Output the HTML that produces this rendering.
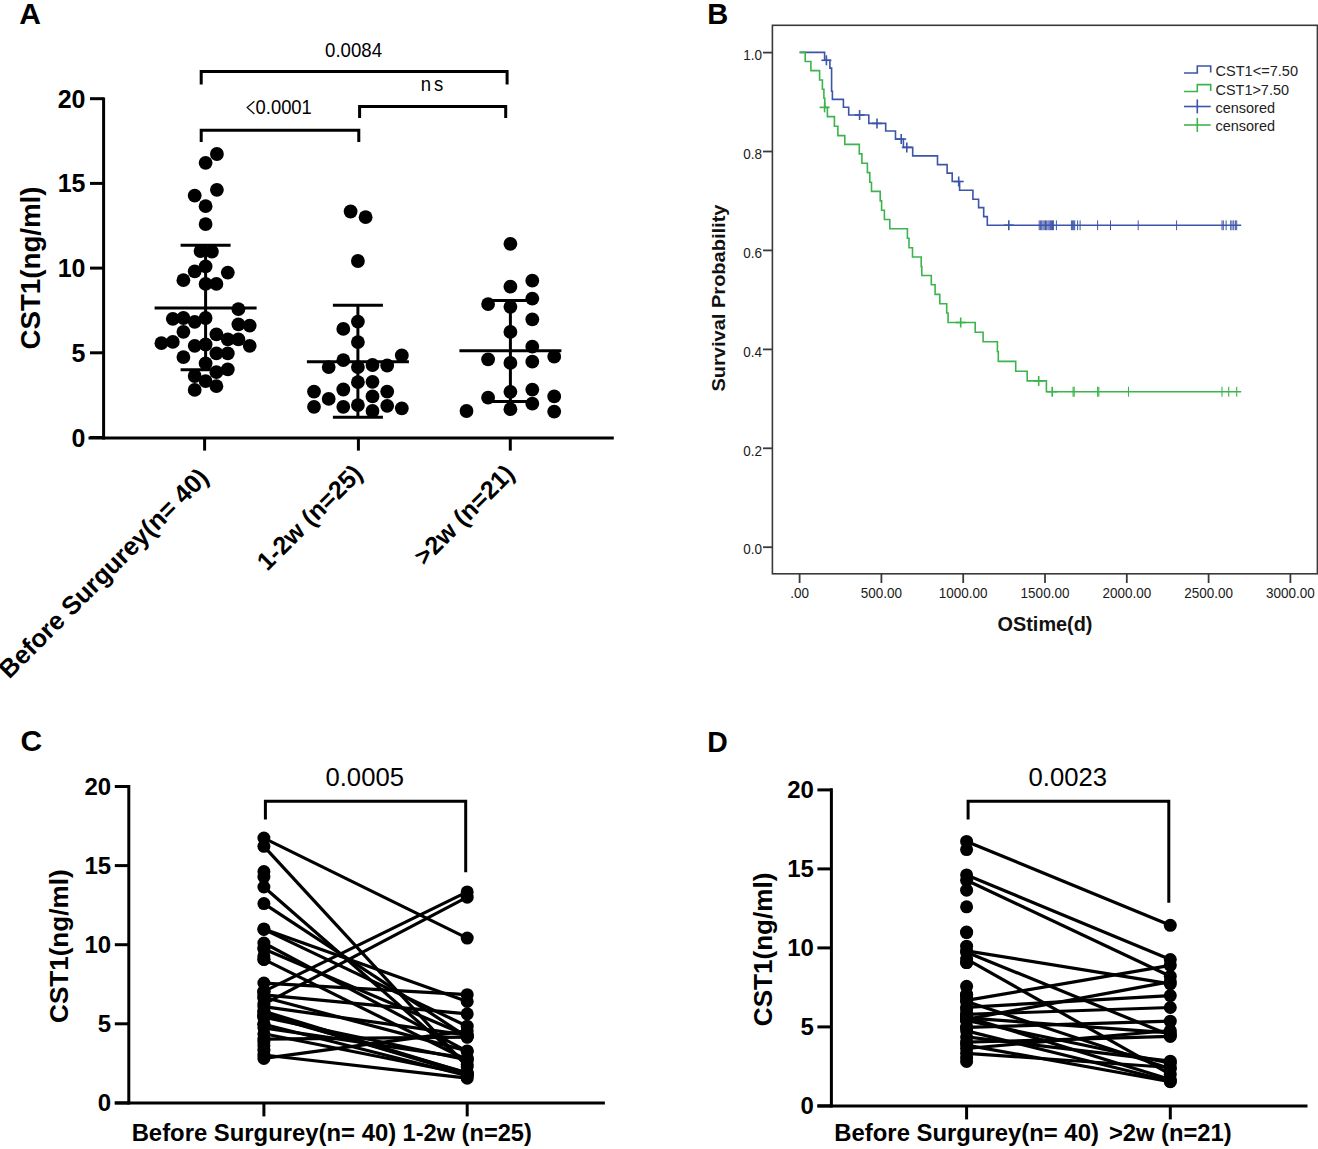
<!DOCTYPE html>
<html><head><meta charset="utf-8"><title>CST1 figure</title>
<style>
html,body{margin:0;padding:0;background:#fff;}
body{width:1318px;height:1149px;overflow:hidden;}
svg{display:block;font-family:"Liberation Sans",sans-serif;}
</style></head>
<body>
<svg width="1318" height="1149" viewBox="0 0 1318 1149">
<rect width="1318" height="1149" fill="#fff"/>
<text x="19.3" y="24.2" font-size="30" font-weight="bold" text-anchor="start" fill="#000">A</text>
<text x="707.2" y="23.8" font-size="30" font-weight="bold" text-anchor="start" fill="#000" textLength="21" lengthAdjust="spacingAndGlyphs">B</text>
<text x="20.5" y="750.6" font-size="30" font-weight="bold" text-anchor="start" fill="#000">C</text>
<text x="707.2" y="751.5" font-size="30" font-weight="bold" text-anchor="start" fill="#000" textLength="20.5" lengthAdjust="spacingAndGlyphs">D</text>
<line x1="103.6" y1="97.5" x2="103.6" y2="439.4" stroke="#000" stroke-width="3" stroke-linecap="butt"/>
<line x1="88.5" y1="437.9" x2="613.8" y2="437.9" stroke="#000" stroke-width="3" stroke-linecap="butt"/>
<line x1="90.0" y1="437.5" x2="103.6" y2="437.5" stroke="#000" stroke-width="3" stroke-linecap="butt"/>
<text x="85.5" y="446.5" font-size="25" font-weight="bold" text-anchor="end" fill="#000">0</text>
<line x1="90.0" y1="352.8" x2="103.6" y2="352.8" stroke="#000" stroke-width="3" stroke-linecap="butt"/>
<text x="85.5" y="361.8" font-size="25" font-weight="bold" text-anchor="end" fill="#000">5</text>
<line x1="90.0" y1="268.1" x2="103.6" y2="268.1" stroke="#000" stroke-width="3" stroke-linecap="butt"/>
<text x="85.5" y="277.1" font-size="25" font-weight="bold" text-anchor="end" fill="#000">10</text>
<line x1="90.0" y1="183.4" x2="103.6" y2="183.4" stroke="#000" stroke-width="3" stroke-linecap="butt"/>
<text x="85.5" y="192.4" font-size="25" font-weight="bold" text-anchor="end" fill="#000">15</text>
<line x1="90.0" y1="98.7" x2="103.6" y2="98.7" stroke="#000" stroke-width="3" stroke-linecap="butt"/>
<text x="85.5" y="107.7" font-size="25" font-weight="bold" text-anchor="end" fill="#000">20</text>
<line x1="204.6" y1="437.9" x2="204.6" y2="450.6" stroke="#000" stroke-width="3" stroke-linecap="butt"/>
<line x1="358.4" y1="437.9" x2="358.4" y2="450.6" stroke="#000" stroke-width="3" stroke-linecap="butt"/>
<line x1="510.3" y1="437.9" x2="510.3" y2="450.6" stroke="#000" stroke-width="3" stroke-linecap="butt"/>
<text x="40.0" y="268.0" font-size="27" font-weight="bold" text-anchor="middle" fill="#000" textLength="163" lengthAdjust="spacingAndGlyphs" transform="rotate(-90 40.0 268.0)">CST1(ng/ml)</text>
<text x="210.0" y="479.0" font-size="25.6" font-weight="bold" text-anchor="end" fill="#000" transform="rotate(-45 210.0 479.0)">Before Surgurey(n= 40)</text>
<text x="364.0" y="475.0" font-size="25" font-weight="bold" text-anchor="end" fill="#000" transform="rotate(-45 364.0 475.0)">1-2w (n=25)</text>
<text x="516.0" y="475.0" font-size="25" font-weight="bold" text-anchor="end" fill="#000" transform="rotate(-45 516.0 475.0)">&gt;2w (n=21)</text>
<polyline points="201.2,84.6 201.2,71.5 507.1,71.5 507.1,84.6" fill="none" stroke="#000" stroke-width="3" stroke-linejoin="miter"/>
<polyline points="359.6,118.0 359.6,106.5 505.7,106.5 505.7,118.0" fill="none" stroke="#000" stroke-width="3" stroke-linejoin="miter"/>
<polyline points="201.2,141.9 201.2,130.2 358.8,130.2 358.8,141.9" fill="none" stroke="#000" stroke-width="3" stroke-linejoin="miter"/>
<text x="0" y="0" transform="translate(353.5 56.8) scale(1 1.09)" font-size="18.5" font-weight="normal" text-anchor="middle" fill="#000" textLength="57" lengthAdjust="spacingAndGlyphs">0.0084</text>
<text x="0" y="0" transform="translate(433.5 90.8) scale(1 1.09)" font-size="18.5" font-weight="normal" text-anchor="middle" fill="#000" letter-spacing="3">ns</text>
<text x="0" y="0" transform="translate(255.6 114.1) scale(1 1.09)" font-size="18.5" font-weight="normal" text-anchor="start" fill="#000" textLength="56.2" lengthAdjust="spacingAndGlyphs">0.0001</text>
<polyline points="254.4,101.2 247.2,107.6 254.4,114.0" fill="none" stroke="#111" stroke-width="1.3" stroke-linejoin="miter"/>
<line x1="205.6" y1="245.3" x2="205.6" y2="369.8" stroke="#000" stroke-width="3" stroke-linecap="butt"/>
<line x1="154.6" y1="307.9" x2="256.6" y2="307.9" stroke="#000" stroke-width="3" stroke-linecap="butt"/>
<line x1="180.6" y1="245.3" x2="230.6" y2="245.3" stroke="#000" stroke-width="3" stroke-linecap="butt"/>
<line x1="180.6" y1="369.8" x2="230.6" y2="369.8" stroke="#000" stroke-width="3" stroke-linecap="butt"/>
<line x1="357.9" y1="305.3" x2="357.9" y2="417.3" stroke="#000" stroke-width="3" stroke-linecap="butt"/>
<line x1="306.9" y1="361.7" x2="408.9" y2="361.7" stroke="#000" stroke-width="3" stroke-linecap="butt"/>
<line x1="332.9" y1="305.3" x2="382.9" y2="305.3" stroke="#000" stroke-width="3" stroke-linecap="butt"/>
<line x1="332.9" y1="417.3" x2="382.9" y2="417.3" stroke="#000" stroke-width="3" stroke-linecap="butt"/>
<line x1="510.4" y1="300.4" x2="510.4" y2="401.5" stroke="#000" stroke-width="3" stroke-linecap="butt"/>
<line x1="459.4" y1="350.7" x2="561.4" y2="350.7" stroke="#000" stroke-width="3" stroke-linecap="butt"/>
<line x1="485.4" y1="300.4" x2="535.4" y2="300.4" stroke="#000" stroke-width="3" stroke-linecap="butt"/>
<line x1="485.4" y1="401.5" x2="535.4" y2="401.5" stroke="#000" stroke-width="3" stroke-linecap="butt"/>
<circle cx="216.9" cy="154.0" r="6.9" fill="#000"/>
<circle cx="205.6" cy="162.8" r="6.9" fill="#000"/>
<circle cx="216.9" cy="189.8" r="6.9" fill="#000"/>
<circle cx="194.7" cy="195.6" r="6.9" fill="#000"/>
<circle cx="205.6" cy="206.2" r="6.9" fill="#000"/>
<circle cx="205.6" cy="224.1" r="6.9" fill="#000"/>
<circle cx="200.5" cy="251.1" r="6.9" fill="#000"/>
<circle cx="211.9" cy="251.6" r="6.9" fill="#000"/>
<circle cx="205.6" cy="266.3" r="6.9" fill="#000"/>
<circle cx="194.7" cy="271.3" r="6.9" fill="#000"/>
<circle cx="227.8" cy="272.6" r="6.9" fill="#000"/>
<circle cx="183.4" cy="280.2" r="6.9" fill="#000"/>
<circle cx="205.6" cy="283.9" r="6.9" fill="#000"/>
<circle cx="216.4" cy="283.9" r="6.9" fill="#000"/>
<circle cx="238.4" cy="309.2" r="6.9" fill="#000"/>
<circle cx="172.8" cy="318.8" r="6.9" fill="#000"/>
<circle cx="183.4" cy="318.0" r="6.9" fill="#000"/>
<circle cx="194.7" cy="321.8" r="6.9" fill="#000"/>
<circle cx="205.6" cy="318.0" r="6.9" fill="#000"/>
<circle cx="238.4" cy="324.3" r="6.9" fill="#000"/>
<circle cx="249.7" cy="325.6" r="6.9" fill="#000"/>
<circle cx="183.4" cy="331.8" r="6.9" fill="#000"/>
<circle cx="216.4" cy="334.4" r="6.9" fill="#000"/>
<circle cx="161.4" cy="343.2" r="6.9" fill="#000"/>
<circle cx="172.8" cy="341.9" r="6.9" fill="#000"/>
<circle cx="227.8" cy="339.4" r="6.9" fill="#000"/>
<circle cx="238.4" cy="339.4" r="6.9" fill="#000"/>
<circle cx="194.7" cy="345.8" r="6.9" fill="#000"/>
<circle cx="205.6" cy="344.5" r="6.9" fill="#000"/>
<circle cx="249.7" cy="345.8" r="6.9" fill="#000"/>
<circle cx="183.4" cy="357.1" r="6.9" fill="#000"/>
<circle cx="216.4" cy="353.3" r="6.9" fill="#000"/>
<circle cx="227.8" cy="353.3" r="6.9" fill="#000"/>
<circle cx="205.6" cy="363.4" r="6.9" fill="#000"/>
<circle cx="194.7" cy="376.0" r="6.9" fill="#000"/>
<circle cx="216.4" cy="372.2" r="6.9" fill="#000"/>
<circle cx="227.8" cy="369.3" r="6.9" fill="#000"/>
<circle cx="205.6" cy="381.1" r="6.9" fill="#000"/>
<circle cx="194.7" cy="389.9" r="6.9" fill="#000"/>
<circle cx="216.4" cy="386.2" r="6.9" fill="#000"/>
<circle cx="350.6" cy="211.5" r="6.9" fill="#000"/>
<circle cx="365.6" cy="217.2" r="6.9" fill="#000"/>
<circle cx="357.9" cy="261.0" r="6.9" fill="#000"/>
<circle cx="357.9" cy="321.6" r="6.9" fill="#000"/>
<circle cx="343.3" cy="328.9" r="6.9" fill="#000"/>
<circle cx="357.9" cy="342.1" r="6.9" fill="#000"/>
<circle cx="343.3" cy="360.2" r="6.9" fill="#000"/>
<circle cx="401.8" cy="355.4" r="6.9" fill="#000"/>
<circle cx="328.7" cy="367.1" r="6.9" fill="#000"/>
<circle cx="357.9" cy="367.1" r="6.9" fill="#000"/>
<circle cx="372.5" cy="365.0" r="6.9" fill="#000"/>
<circle cx="387.2" cy="365.5" r="6.9" fill="#000"/>
<circle cx="357.9" cy="382.2" r="6.9" fill="#000"/>
<circle cx="372.5" cy="381.8" r="6.9" fill="#000"/>
<circle cx="314.0" cy="391.6" r="6.9" fill="#000"/>
<circle cx="343.3" cy="389.5" r="6.9" fill="#000"/>
<circle cx="387.2" cy="391.6" r="6.9" fill="#000"/>
<circle cx="328.7" cy="398.9" r="6.9" fill="#000"/>
<circle cx="372.5" cy="396.4" r="6.9" fill="#000"/>
<circle cx="314.0" cy="406.8" r="6.9" fill="#000"/>
<circle cx="343.3" cy="406.8" r="6.9" fill="#000"/>
<circle cx="357.9" cy="405.1" r="6.9" fill="#000"/>
<circle cx="387.2" cy="405.8" r="6.9" fill="#000"/>
<circle cx="372.5" cy="411.0" r="6.9" fill="#000"/>
<circle cx="401.8" cy="408.3" r="6.9" fill="#000"/>
<circle cx="510.4" cy="243.8" r="6.9" fill="#000"/>
<circle cx="532.3" cy="280.7" r="6.9" fill="#000"/>
<circle cx="510.4" cy="286.7" r="6.9" fill="#000"/>
<circle cx="532.3" cy="298.6" r="6.9" fill="#000"/>
<circle cx="488.1" cy="304.1" r="6.9" fill="#000"/>
<circle cx="510.4" cy="306.8" r="6.9" fill="#000"/>
<circle cx="532.3" cy="319.3" r="6.9" fill="#000"/>
<circle cx="510.4" cy="331.9" r="6.9" fill="#000"/>
<circle cx="532.3" cy="346.7" r="6.9" fill="#000"/>
<circle cx="488.1" cy="359.3" r="6.9" fill="#000"/>
<circle cx="510.4" cy="362.9" r="6.9" fill="#000"/>
<circle cx="532.3" cy="361.7" r="6.9" fill="#000"/>
<circle cx="554.2" cy="356.7" r="6.9" fill="#000"/>
<circle cx="510.4" cy="391.8" r="6.9" fill="#000"/>
<circle cx="532.3" cy="389.6" r="6.9" fill="#000"/>
<circle cx="488.1" cy="397.7" r="6.9" fill="#000"/>
<circle cx="554.2" cy="396.4" r="6.9" fill="#000"/>
<circle cx="532.3" cy="403.7" r="6.9" fill="#000"/>
<circle cx="466.5" cy="411.0" r="6.9" fill="#000"/>
<circle cx="510.4" cy="409.2" r="6.9" fill="#000"/>
<circle cx="554.2" cy="411.6" r="6.9" fill="#000"/>
<rect x="772.4" y="25.3" width="545.0000000000001" height="548.5" fill="none" stroke="#3a3a3a" stroke-width="1.6"/>
<line x1="763.0" y1="547.2" x2="772.4" y2="547.2" stroke="#3a3a3a" stroke-width="1.8" stroke-linecap="butt"/>
<text x="0" y="0" transform="translate(762.0 554.4) scale(1 1.1)" font-size="13.5" font-weight="normal" text-anchor="end" fill="#1a1a1a">0.0</text>
<line x1="763.0" y1="448.3" x2="772.4" y2="448.3" stroke="#3a3a3a" stroke-width="1.8" stroke-linecap="butt"/>
<text x="0" y="0" transform="translate(762.0 455.5) scale(1 1.1)" font-size="13.5" font-weight="normal" text-anchor="end" fill="#1a1a1a">0.2</text>
<line x1="763.0" y1="349.4" x2="772.4" y2="349.4" stroke="#3a3a3a" stroke-width="1.8" stroke-linecap="butt"/>
<text x="0" y="0" transform="translate(762.0 356.6) scale(1 1.1)" font-size="13.5" font-weight="normal" text-anchor="end" fill="#1a1a1a">0.4</text>
<line x1="763.0" y1="250.4" x2="772.4" y2="250.4" stroke="#3a3a3a" stroke-width="1.8" stroke-linecap="butt"/>
<text x="0" y="0" transform="translate(762.0 257.6) scale(1 1.1)" font-size="13.5" font-weight="normal" text-anchor="end" fill="#1a1a1a">0.6</text>
<line x1="763.0" y1="151.5" x2="772.4" y2="151.5" stroke="#3a3a3a" stroke-width="1.8" stroke-linecap="butt"/>
<text x="0" y="0" transform="translate(762.0 158.7) scale(1 1.1)" font-size="13.5" font-weight="normal" text-anchor="end" fill="#1a1a1a">0.8</text>
<line x1="763.0" y1="52.6" x2="772.4" y2="52.6" stroke="#3a3a3a" stroke-width="1.8" stroke-linecap="butt"/>
<text x="0" y="0" transform="translate(762.0 59.8) scale(1 1.1)" font-size="13.5" font-weight="normal" text-anchor="end" fill="#1a1a1a">1.0</text>
<line x1="799.6" y1="573.8" x2="799.6" y2="583.0" stroke="#3a3a3a" stroke-width="1.8" stroke-linecap="butt"/>
<text x="0" y="0" transform="translate(799.6 598.2) scale(1 1.1)" font-size="13.5" font-weight="normal" text-anchor="middle" fill="#1a1a1a">.00</text>
<line x1="881.4" y1="573.8" x2="881.4" y2="583.0" stroke="#3a3a3a" stroke-width="1.8" stroke-linecap="butt"/>
<text x="0" y="0" transform="translate(881.4 598.2) scale(1 1.1)" font-size="13.5" font-weight="normal" text-anchor="middle" fill="#1a1a1a">500.00</text>
<line x1="963.2" y1="573.8" x2="963.2" y2="583.0" stroke="#3a3a3a" stroke-width="1.8" stroke-linecap="butt"/>
<text x="0" y="0" transform="translate(963.2 598.2) scale(1 1.1)" font-size="13.5" font-weight="normal" text-anchor="middle" fill="#1a1a1a">1000.00</text>
<line x1="1045.0" y1="573.8" x2="1045.0" y2="583.0" stroke="#3a3a3a" stroke-width="1.8" stroke-linecap="butt"/>
<text x="0" y="0" transform="translate(1045.0 598.2) scale(1 1.1)" font-size="13.5" font-weight="normal" text-anchor="middle" fill="#1a1a1a">1500.00</text>
<line x1="1126.8" y1="573.8" x2="1126.8" y2="583.0" stroke="#3a3a3a" stroke-width="1.8" stroke-linecap="butt"/>
<text x="0" y="0" transform="translate(1126.8 598.2) scale(1 1.1)" font-size="13.5" font-weight="normal" text-anchor="middle" fill="#1a1a1a">2000.00</text>
<line x1="1208.6" y1="573.8" x2="1208.6" y2="583.0" stroke="#3a3a3a" stroke-width="1.8" stroke-linecap="butt"/>
<text x="0" y="0" transform="translate(1208.6 598.2) scale(1 1.1)" font-size="13.5" font-weight="normal" text-anchor="middle" fill="#1a1a1a">2500.00</text>
<line x1="1290.4" y1="573.8" x2="1290.4" y2="583.0" stroke="#3a3a3a" stroke-width="1.8" stroke-linecap="butt"/>
<text x="0" y="0" transform="translate(1290.4 598.2) scale(1 1.1)" font-size="13.5" font-weight="normal" text-anchor="middle" fill="#1a1a1a">3000.00</text>
<text x="0" y="0" transform="translate(1045.0 631.0) scale(1 1.1)" font-size="19" font-weight="bold" text-anchor="middle" fill="#111" textLength="95" lengthAdjust="spacingAndGlyphs">OStime(d)</text>
<text x="724.7" y="298.0" font-size="18" font-weight="bold" text-anchor="middle" fill="#111" textLength="187" lengthAdjust="spacingAndGlyphs" transform="rotate(-90 724.7 298.0)">Survival Probability</text>
<polyline points="799.6,52.4 824.6,52.4 824.6,60.3 829.9,60.3 829.9,68.1 831.6,68.1 831.6,91.3 832.4,91.3 832.4,99.4 843.4,99.4 843.4,107.2 848.7,107.2 848.7,115.0 868.8,115.0 868.8,123.4 885.7,123.4 885.7,131.0 895.5,131.0 895.5,139.1 903.4,139.1 903.4,147.4 912.7,147.4 912.7,155.9 937.5,155.9 937.5,164.6 947.1,164.6 947.1,173.1 952.2,173.1 952.2,181.5 959.6,181.5 959.6,190.2 972.9,190.2 972.9,199.2 978.6,199.2 978.6,207.6 983.7,207.6 983.7,216.6 987.3,216.6 987.3,225.2 1241.2,225.2" fill="none" stroke="#3d55a8" stroke-width="1.6" stroke-linejoin="miter"/>
<polyline points="799.6,52.4 805.2,52.4 805.2,61.5 810.9,61.5 810.9,70.6 819.6,70.6 819.6,80.0 822.4,80.0 822.4,89.3 823.9,89.3 823.9,98.3 824.8,98.3 824.8,107.4 827.4,107.4 827.4,116.6 834.4,116.6 834.4,126.2 837.9,126.2 837.9,135.6 844.8,135.6 844.8,144.4 859.3,144.4 859.3,153.9 861.9,153.9 861.9,163.3 867.4,163.3 867.4,172.6 869.8,172.6 869.8,182.2 871.5,182.2 871.5,191.4 880.2,191.4 880.2,200.9 881.6,200.9 881.6,210.2 884.4,210.2 884.4,219.5 889.8,219.5 889.8,228.8 907.4,228.8 907.4,238.3 909.0,238.3 909.0,247.7 912.5,247.7 912.5,257.0 921.2,257.0 921.2,266.6 921.8,266.6 921.8,275.5 931.3,275.5 931.3,284.8 935.1,284.8 935.1,294.4 939.8,294.4 939.8,303.7 946.7,303.7 946.7,313.0 948.1,313.0 948.1,322.5 975.2,322.5 975.2,332.2 983.1,332.2 983.1,341.8 997.4,341.8 997.4,351.5 998.3,351.5 998.3,361.4 1015.7,361.4 1015.7,371.2 1027.2,371.2 1027.2,380.9 1046.4,380.9 1046.4,391.7 1241.2,391.7" fill="none" stroke="#3cb44b" stroke-width="1.6" stroke-linejoin="miter"/>
<line x1="826.4" y1="55.3" x2="826.4" y2="65.3" stroke="#3d55a8" stroke-width="1.6" stroke-linecap="butt"/>
<line x1="821.4" y1="60.3" x2="831.4" y2="60.3" stroke="#3d55a8" stroke-width="1.6" stroke-linecap="butt"/>
<line x1="859.6" y1="110.0" x2="859.6" y2="120.0" stroke="#3d55a8" stroke-width="1.6" stroke-linecap="butt"/>
<line x1="854.6" y1="115.0" x2="864.6" y2="115.0" stroke="#3d55a8" stroke-width="1.6" stroke-linecap="butt"/>
<line x1="877.0" y1="118.4" x2="877.0" y2="128.4" stroke="#3d55a8" stroke-width="1.6" stroke-linecap="butt"/>
<line x1="872.0" y1="123.4" x2="882.0" y2="123.4" stroke="#3d55a8" stroke-width="1.6" stroke-linecap="butt"/>
<line x1="901.2" y1="134.1" x2="901.2" y2="144.1" stroke="#3d55a8" stroke-width="1.6" stroke-linecap="butt"/>
<line x1="896.2" y1="139.1" x2="906.2" y2="139.1" stroke="#3d55a8" stroke-width="1.6" stroke-linecap="butt"/>
<line x1="906.8" y1="142.4" x2="906.8" y2="152.4" stroke="#3d55a8" stroke-width="1.6" stroke-linecap="butt"/>
<line x1="901.8" y1="147.4" x2="911.8" y2="147.4" stroke="#3d55a8" stroke-width="1.6" stroke-linecap="butt"/>
<line x1="958.7" y1="176.5" x2="958.7" y2="186.5" stroke="#3d55a8" stroke-width="1.6" stroke-linecap="butt"/>
<line x1="953.7" y1="181.5" x2="963.7" y2="181.5" stroke="#3d55a8" stroke-width="1.6" stroke-linecap="butt"/>
<line x1="1008.8" y1="220.2" x2="1008.8" y2="230.2" stroke="#3d55a8" stroke-width="1.6" stroke-linecap="butt"/>
<line x1="1003.8" y1="225.2" x2="1013.8" y2="225.2" stroke="#3d55a8" stroke-width="1.6" stroke-linecap="butt"/>
<line x1="1039.2" y1="220.4" x2="1039.2" y2="230.2" stroke="#3d55a8" stroke-width="1.0" stroke-linecap="butt"/>
<line x1="1040.4" y1="220.4" x2="1040.4" y2="230.2" stroke="#3d55a8" stroke-width="1.0" stroke-linecap="butt"/>
<line x1="1041.7" y1="220.4" x2="1041.7" y2="230.2" stroke="#3d55a8" stroke-width="1.0" stroke-linecap="butt"/>
<line x1="1043.0" y1="220.4" x2="1043.0" y2="230.2" stroke="#3d55a8" stroke-width="1.0" stroke-linecap="butt"/>
<line x1="1044.2" y1="220.4" x2="1044.2" y2="230.2" stroke="#3d55a8" stroke-width="1.0" stroke-linecap="butt"/>
<line x1="1045.5" y1="220.4" x2="1045.5" y2="230.2" stroke="#3d55a8" stroke-width="1.0" stroke-linecap="butt"/>
<line x1="1046.7" y1="220.4" x2="1046.7" y2="230.2" stroke="#3d55a8" stroke-width="1.0" stroke-linecap="butt"/>
<line x1="1048.0" y1="220.4" x2="1048.0" y2="230.2" stroke="#3d55a8" stroke-width="1.0" stroke-linecap="butt"/>
<line x1="1049.2" y1="220.4" x2="1049.2" y2="230.2" stroke="#3d55a8" stroke-width="1.0" stroke-linecap="butt"/>
<line x1="1050.4" y1="220.4" x2="1050.4" y2="230.2" stroke="#3d55a8" stroke-width="1.0" stroke-linecap="butt"/>
<line x1="1051.4" y1="220.4" x2="1051.4" y2="230.2" stroke="#3d55a8" stroke-width="1.0" stroke-linecap="butt"/>
<line x1="1052.5" y1="220.4" x2="1052.5" y2="230.2" stroke="#3d55a8" stroke-width="1.0" stroke-linecap="butt"/>
<line x1="1053.4" y1="220.4" x2="1053.4" y2="230.2" stroke="#3d55a8" stroke-width="1.0" stroke-linecap="butt"/>
<line x1="1056.4" y1="220.4" x2="1056.4" y2="230.2" stroke="#3d55a8" stroke-width="1.0" stroke-linecap="butt"/>
<line x1="1071.4" y1="220.4" x2="1071.4" y2="230.2" stroke="#3d55a8" stroke-width="1.0" stroke-linecap="butt"/>
<line x1="1072.6" y1="220.4" x2="1072.6" y2="230.2" stroke="#3d55a8" stroke-width="1.0" stroke-linecap="butt"/>
<line x1="1073.7" y1="220.4" x2="1073.7" y2="230.2" stroke="#3d55a8" stroke-width="1.0" stroke-linecap="butt"/>
<line x1="1074.7" y1="220.4" x2="1074.7" y2="230.2" stroke="#3d55a8" stroke-width="1.0" stroke-linecap="butt"/>
<line x1="1077.6" y1="220.4" x2="1077.6" y2="230.2" stroke="#3d55a8" stroke-width="1.0" stroke-linecap="butt"/>
<line x1="1080.1" y1="220.4" x2="1080.1" y2="230.2" stroke="#3d55a8" stroke-width="1.0" stroke-linecap="butt"/>
<line x1="1097.6" y1="220.4" x2="1097.6" y2="230.2" stroke="#3d55a8" stroke-width="1.0" stroke-linecap="butt"/>
<line x1="1110.5" y1="220.4" x2="1110.5" y2="230.2" stroke="#3d55a8" stroke-width="1.0" stroke-linecap="butt"/>
<line x1="1138.2" y1="220.4" x2="1138.2" y2="230.2" stroke="#3d55a8" stroke-width="1.0" stroke-linecap="butt"/>
<line x1="1176.6" y1="220.4" x2="1176.6" y2="230.2" stroke="#3d55a8" stroke-width="1.0" stroke-linecap="butt"/>
<line x1="1222.0" y1="220.4" x2="1222.0" y2="230.2" stroke="#3d55a8" stroke-width="1.0" stroke-linecap="butt"/>
<line x1="1223.3" y1="220.4" x2="1223.3" y2="230.2" stroke="#3d55a8" stroke-width="1.0" stroke-linecap="butt"/>
<line x1="1226.1" y1="220.4" x2="1226.1" y2="230.2" stroke="#3d55a8" stroke-width="1.0" stroke-linecap="butt"/>
<line x1="1230.7" y1="220.4" x2="1230.7" y2="230.2" stroke="#3d55a8" stroke-width="1.0" stroke-linecap="butt"/>
<line x1="1232.0" y1="220.4" x2="1232.0" y2="230.2" stroke="#3d55a8" stroke-width="1.0" stroke-linecap="butt"/>
<line x1="1233.7" y1="220.4" x2="1233.7" y2="230.2" stroke="#3d55a8" stroke-width="1.0" stroke-linecap="butt"/>
<line x1="1235.4" y1="220.4" x2="1235.4" y2="230.2" stroke="#3d55a8" stroke-width="1.0" stroke-linecap="butt"/>
<line x1="1236.7" y1="220.4" x2="1236.7" y2="230.2" stroke="#3d55a8" stroke-width="1.0" stroke-linecap="butt"/>
<line x1="824.6" y1="102.4" x2="824.6" y2="112.4" stroke="#3cb44b" stroke-width="1.6" stroke-linecap="butt"/>
<line x1="819.6" y1="107.4" x2="829.6" y2="107.4" stroke="#3cb44b" stroke-width="1.6" stroke-linecap="butt"/>
<line x1="960.7" y1="317.5" x2="960.7" y2="327.5" stroke="#3cb44b" stroke-width="1.6" stroke-linecap="butt"/>
<line x1="955.7" y1="322.5" x2="965.7" y2="322.5" stroke="#3cb44b" stroke-width="1.6" stroke-linecap="butt"/>
<line x1="1038.7" y1="375.9" x2="1038.7" y2="385.9" stroke="#3cb44b" stroke-width="1.6" stroke-linecap="butt"/>
<line x1="1033.7" y1="380.9" x2="1043.7" y2="380.9" stroke="#3cb44b" stroke-width="1.6" stroke-linecap="butt"/>
<line x1="1052.2" y1="386.7" x2="1052.2" y2="396.7" stroke="#3cb44b" stroke-width="1.6" stroke-linecap="butt"/>
<line x1="1047.2" y1="391.7" x2="1057.2" y2="391.7" stroke="#3cb44b" stroke-width="1.6" stroke-linecap="butt"/>
<line x1="1073.1" y1="386.7" x2="1073.1" y2="396.7" stroke="#3cb44b" stroke-width="1.1" stroke-linecap="butt"/>
<line x1="1074.2" y1="386.7" x2="1074.2" y2="396.7" stroke="#3cb44b" stroke-width="1.1" stroke-linecap="butt"/>
<line x1="1097.6" y1="386.7" x2="1097.6" y2="396.7" stroke="#3cb44b" stroke-width="1.1" stroke-linecap="butt"/>
<line x1="1098.8" y1="386.7" x2="1098.8" y2="396.7" stroke="#3cb44b" stroke-width="1.1" stroke-linecap="butt"/>
<line x1="1128.5" y1="386.7" x2="1128.5" y2="396.7" stroke="#3cb44b" stroke-width="1.1" stroke-linecap="butt"/>
<line x1="1222.0" y1="386.7" x2="1222.0" y2="396.7" stroke="#3cb44b" stroke-width="1.1" stroke-linecap="butt"/>
<line x1="1228.7" y1="386.7" x2="1228.7" y2="396.7" stroke="#3cb44b" stroke-width="1.1" stroke-linecap="butt"/>
<line x1="1236.7" y1="386.7" x2="1236.7" y2="396.7" stroke="#3cb44b" stroke-width="1.1" stroke-linecap="butt"/>
<polyline points="1184.0,73.0 1197.3,73.0 1197.3,66.0 1210.7,66.0 1210.7,72.5" fill="none" stroke="#3d55a8" stroke-width="1.6" stroke-linejoin="miter"/>
<polyline points="1184.0,91.5 1197.3,91.5 1197.3,84.6 1210.7,84.6 1210.7,91.0" fill="none" stroke="#3cb44b" stroke-width="1.6" stroke-linejoin="miter"/>
<line x1="1184.0" y1="106.5" x2="1210.7" y2="106.5" stroke="#3d55a8" stroke-width="1.6" stroke-linecap="butt"/>
<line x1="1197.3" y1="99.4" x2="1197.3" y2="113.4" stroke="#3d55a8" stroke-width="1.6" stroke-linecap="butt"/>
<line x1="1184.0" y1="125.0" x2="1210.7" y2="125.0" stroke="#3cb44b" stroke-width="1.6" stroke-linecap="butt"/>
<line x1="1197.3" y1="117.9" x2="1197.3" y2="131.9" stroke="#3cb44b" stroke-width="1.6" stroke-linecap="butt"/>
<text x="1215.5" y="76.4" font-size="14.5" font-weight="normal" text-anchor="start" fill="#222" textLength="82.5" lengthAdjust="spacingAndGlyphs">CST1&lt;=7.50</text>
<text x="1215.5" y="94.7" font-size="14.5" font-weight="normal" text-anchor="start" fill="#222" textLength="73.5" lengthAdjust="spacingAndGlyphs">CST1&gt;7.50</text>
<text x="1215.5" y="113.1" font-size="14.5" font-weight="normal" text-anchor="start" fill="#222" textLength="59.5" lengthAdjust="spacingAndGlyphs">censored</text>
<text x="1215.5" y="131.0" font-size="14.5" font-weight="normal" text-anchor="start" fill="#222" textLength="59.5" lengthAdjust="spacingAndGlyphs">censored</text>
<line x1="128.8" y1="785.0" x2="128.8" y2="1104.4" stroke="#000" stroke-width="3" stroke-linecap="butt"/>
<line x1="114.8" y1="1102.9" x2="604.9" y2="1102.9" stroke="#000" stroke-width="3" stroke-linecap="butt"/>
<line x1="114.8" y1="1102.9" x2="128.8" y2="1102.9" stroke="#000" stroke-width="3" stroke-linecap="butt"/>
<text x="111.2" y="1111.4" font-size="24" font-weight="bold" text-anchor="end" fill="#000">0</text>
<line x1="114.8" y1="1023.8" x2="128.8" y2="1023.8" stroke="#000" stroke-width="3" stroke-linecap="butt"/>
<text x="111.2" y="1032.3" font-size="24" font-weight="bold" text-anchor="end" fill="#000">5</text>
<line x1="114.8" y1="944.7" x2="128.8" y2="944.7" stroke="#000" stroke-width="3" stroke-linecap="butt"/>
<text x="111.2" y="953.2" font-size="24" font-weight="bold" text-anchor="end" fill="#000">10</text>
<line x1="114.8" y1="865.6" x2="128.8" y2="865.6" stroke="#000" stroke-width="3" stroke-linecap="butt"/>
<text x="111.2" y="874.1" font-size="24" font-weight="bold" text-anchor="end" fill="#000">15</text>
<line x1="114.8" y1="786.5" x2="128.8" y2="786.5" stroke="#000" stroke-width="3" stroke-linecap="butt"/>
<text x="111.2" y="795.0" font-size="24" font-weight="bold" text-anchor="end" fill="#000">20</text>
<line x1="263.9" y1="1102.9" x2="263.9" y2="1116.4" stroke="#000" stroke-width="3" stroke-linecap="butt"/>
<line x1="467.2" y1="1102.9" x2="467.2" y2="1116.4" stroke="#000" stroke-width="3" stroke-linecap="butt"/>
<text x="68.1" y="946.2" font-size="26" font-weight="bold" text-anchor="middle" fill="#000" textLength="153.5" lengthAdjust="spacingAndGlyphs" transform="rotate(-90 68.1 946.2)">CST1(ng/ml)</text>
<text x="263.9" y="1141.0" font-size="23.5" font-weight="bold" text-anchor="middle" fill="#000" textLength="264.5" lengthAdjust="spacingAndGlyphs">Before Surgurey(n= 40)</text>
<text x="467.2" y="1141.0" font-size="23.5" font-weight="bold" text-anchor="middle" fill="#000" textLength="129.4" lengthAdjust="spacingAndGlyphs">1-2w (n=25)</text>
<polyline points="265.4,819.4 265.4,801.2 465.7,801.2 465.7,872.2" fill="none" stroke="#000" stroke-width="3" stroke-linejoin="miter"/>
<text x="0" y="0" transform="translate(364.7 786.2) scale(1 1.05)" font-size="25" font-weight="normal" text-anchor="middle" fill="#000" textLength="78.5" lengthAdjust="spacingAndGlyphs">0.0005</text>
<line x1="263.9" y1="838.1" x2="467.2" y2="938.1" stroke="#000" stroke-width="3.2" stroke-linecap="butt"/>
<line x1="263.9" y1="846.3" x2="467.2" y2="1066.8" stroke="#000" stroke-width="3.2" stroke-linecap="butt"/>
<line x1="263.9" y1="887.0" x2="467.2" y2="1064.5" stroke="#000" stroke-width="3.2" stroke-linecap="butt"/>
<line x1="263.9" y1="903.6" x2="467.2" y2="1037.1" stroke="#000" stroke-width="3.2" stroke-linecap="butt"/>
<line x1="263.9" y1="928.9" x2="467.2" y2="1001.5" stroke="#000" stroke-width="3.2" stroke-linecap="butt"/>
<line x1="263.9" y1="929.4" x2="467.2" y2="1026.2" stroke="#000" stroke-width="3.2" stroke-linecap="butt"/>
<line x1="263.9" y1="943.0" x2="467.2" y2="1051.3" stroke="#000" stroke-width="3.2" stroke-linecap="butt"/>
<line x1="263.9" y1="949.0" x2="467.2" y2="1035.7" stroke="#000" stroke-width="3.2" stroke-linecap="butt"/>
<line x1="263.9" y1="959.4" x2="467.2" y2="1060.0" stroke="#000" stroke-width="3.2" stroke-linecap="butt"/>
<line x1="263.9" y1="983.1" x2="467.2" y2="994.7" stroke="#000" stroke-width="3.2" stroke-linecap="butt"/>
<line x1="263.9" y1="991.4" x2="467.2" y2="891.9" stroke="#000" stroke-width="3.2" stroke-linecap="butt"/>
<line x1="263.9" y1="1004.2" x2="467.2" y2="897.2" stroke="#000" stroke-width="3.2" stroke-linecap="butt"/>
<line x1="263.9" y1="994.8" x2="467.2" y2="1013.8" stroke="#000" stroke-width="3.2" stroke-linecap="butt"/>
<line x1="263.9" y1="997.2" x2="467.2" y2="1050.9" stroke="#000" stroke-width="3.2" stroke-linecap="butt"/>
<line x1="263.9" y1="1006.6" x2="467.2" y2="1035.2" stroke="#000" stroke-width="3.2" stroke-linecap="butt"/>
<line x1="263.9" y1="1011.3" x2="467.2" y2="1073.3" stroke="#000" stroke-width="3.2" stroke-linecap="butt"/>
<line x1="263.9" y1="1013.7" x2="467.2" y2="1074.3" stroke="#000" stroke-width="3.2" stroke-linecap="butt"/>
<line x1="263.9" y1="1014.8" x2="467.2" y2="1072.7" stroke="#000" stroke-width="3.2" stroke-linecap="butt"/>
<line x1="263.9" y1="1017.3" x2="467.2" y2="1060.0" stroke="#000" stroke-width="3.2" stroke-linecap="butt"/>
<line x1="263.9" y1="1024.3" x2="467.2" y2="1075.7" stroke="#000" stroke-width="3.2" stroke-linecap="butt"/>
<line x1="263.9" y1="1027.8" x2="467.2" y2="1058.1" stroke="#000" stroke-width="3.2" stroke-linecap="butt"/>
<line x1="263.9" y1="1033.8" x2="467.2" y2="1074.3" stroke="#000" stroke-width="3.2" stroke-linecap="butt"/>
<line x1="263.9" y1="1058.4" x2="467.2" y2="1030.8" stroke="#000" stroke-width="3.2" stroke-linecap="butt"/>
<line x1="263.9" y1="1055.0" x2="467.2" y2="1078.2" stroke="#000" stroke-width="3.2" stroke-linecap="butt"/>
<line x1="263.9" y1="1039.1" x2="467.2" y2="1037.1" stroke="#000" stroke-width="3.2" stroke-linecap="butt"/>
<circle cx="263.9" cy="838.1" r="6.5" fill="#000"/>
<circle cx="263.9" cy="846.3" r="6.5" fill="#000"/>
<circle cx="263.9" cy="871.6" r="6.5" fill="#000"/>
<circle cx="263.9" cy="877.0" r="6.5" fill="#000"/>
<circle cx="263.9" cy="887.0" r="6.5" fill="#000"/>
<circle cx="263.9" cy="903.6" r="6.5" fill="#000"/>
<circle cx="263.9" cy="928.9" r="6.5" fill="#000"/>
<circle cx="263.9" cy="929.4" r="6.5" fill="#000"/>
<circle cx="263.9" cy="943.0" r="6.5" fill="#000"/>
<circle cx="263.9" cy="947.7" r="6.5" fill="#000"/>
<circle cx="263.9" cy="949.0" r="6.5" fill="#000"/>
<circle cx="263.9" cy="955.9" r="6.5" fill="#000"/>
<circle cx="263.9" cy="959.4" r="6.5" fill="#000"/>
<circle cx="263.9" cy="959.4" r="6.5" fill="#000"/>
<circle cx="263.9" cy="983.1" r="6.5" fill="#000"/>
<circle cx="263.9" cy="991.4" r="6.5" fill="#000"/>
<circle cx="263.9" cy="991.4" r="6.5" fill="#000"/>
<circle cx="263.9" cy="992.0" r="6.5" fill="#000"/>
<circle cx="263.9" cy="994.8" r="6.5" fill="#000"/>
<circle cx="263.9" cy="997.2" r="6.5" fill="#000"/>
<circle cx="263.9" cy="998.3" r="6.5" fill="#000"/>
<circle cx="263.9" cy="1004.2" r="6.5" fill="#000"/>
<circle cx="263.9" cy="1006.6" r="6.5" fill="#000"/>
<circle cx="263.9" cy="1011.3" r="6.5" fill="#000"/>
<circle cx="263.9" cy="1011.3" r="6.5" fill="#000"/>
<circle cx="263.9" cy="1013.7" r="6.5" fill="#000"/>
<circle cx="263.9" cy="1014.8" r="6.5" fill="#000"/>
<circle cx="263.9" cy="1016.0" r="6.5" fill="#000"/>
<circle cx="263.9" cy="1017.3" r="6.5" fill="#000"/>
<circle cx="263.9" cy="1017.3" r="6.5" fill="#000"/>
<circle cx="263.9" cy="1024.3" r="6.5" fill="#000"/>
<circle cx="263.9" cy="1024.3" r="6.5" fill="#000"/>
<circle cx="263.9" cy="1027.8" r="6.5" fill="#000"/>
<circle cx="263.9" cy="1033.8" r="6.5" fill="#000"/>
<circle cx="263.9" cy="1039.1" r="6.5" fill="#000"/>
<circle cx="263.9" cy="1042.0" r="6.5" fill="#000"/>
<circle cx="263.9" cy="1045.5" r="6.5" fill="#000"/>
<circle cx="263.9" cy="1050.2" r="6.5" fill="#000"/>
<circle cx="263.9" cy="1055.0" r="6.5" fill="#000"/>
<circle cx="263.9" cy="1058.4" r="6.5" fill="#000"/>
<circle cx="467.2" cy="891.9" r="6.5" fill="#000"/>
<circle cx="467.2" cy="897.2" r="6.5" fill="#000"/>
<circle cx="467.2" cy="938.1" r="6.5" fill="#000"/>
<circle cx="467.2" cy="994.7" r="6.5" fill="#000"/>
<circle cx="467.2" cy="1001.5" r="6.5" fill="#000"/>
<circle cx="467.2" cy="1013.8" r="6.5" fill="#000"/>
<circle cx="467.2" cy="1026.2" r="6.5" fill="#000"/>
<circle cx="467.2" cy="1030.8" r="6.5" fill="#000"/>
<circle cx="467.2" cy="1035.2" r="6.5" fill="#000"/>
<circle cx="467.2" cy="1035.7" r="6.5" fill="#000"/>
<circle cx="467.2" cy="1037.1" r="6.5" fill="#000"/>
<circle cx="467.2" cy="1037.1" r="6.5" fill="#000"/>
<circle cx="467.2" cy="1050.9" r="6.5" fill="#000"/>
<circle cx="467.2" cy="1051.3" r="6.5" fill="#000"/>
<circle cx="467.2" cy="1058.1" r="6.5" fill="#000"/>
<circle cx="467.2" cy="1060.0" r="6.5" fill="#000"/>
<circle cx="467.2" cy="1060.0" r="6.5" fill="#000"/>
<circle cx="467.2" cy="1064.5" r="6.5" fill="#000"/>
<circle cx="467.2" cy="1066.8" r="6.5" fill="#000"/>
<circle cx="467.2" cy="1072.7" r="6.5" fill="#000"/>
<circle cx="467.2" cy="1073.3" r="6.5" fill="#000"/>
<circle cx="467.2" cy="1074.3" r="6.5" fill="#000"/>
<circle cx="467.2" cy="1074.3" r="6.5" fill="#000"/>
<circle cx="467.2" cy="1075.7" r="6.5" fill="#000"/>
<circle cx="467.2" cy="1078.2" r="6.5" fill="#000"/>
<line x1="831.4" y1="788.3" x2="831.4" y2="1107.4" stroke="#000" stroke-width="3" stroke-linecap="butt"/>
<line x1="817.4" y1="1105.9" x2="1307.5" y2="1105.9" stroke="#000" stroke-width="3" stroke-linecap="butt"/>
<line x1="817.4" y1="1105.9" x2="831.4" y2="1105.9" stroke="#000" stroke-width="3" stroke-linecap="butt"/>
<text x="813.9" y="1114.4" font-size="24" font-weight="bold" text-anchor="end" fill="#000">0</text>
<line x1="817.4" y1="1026.9" x2="831.4" y2="1026.9" stroke="#000" stroke-width="3" stroke-linecap="butt"/>
<text x="813.9" y="1035.4" font-size="24" font-weight="bold" text-anchor="end" fill="#000">5</text>
<line x1="817.4" y1="947.9" x2="831.4" y2="947.9" stroke="#000" stroke-width="3" stroke-linecap="butt"/>
<text x="813.9" y="956.4" font-size="24" font-weight="bold" text-anchor="end" fill="#000">10</text>
<line x1="817.4" y1="868.9" x2="831.4" y2="868.9" stroke="#000" stroke-width="3" stroke-linecap="butt"/>
<text x="813.9" y="877.4" font-size="24" font-weight="bold" text-anchor="end" fill="#000">15</text>
<line x1="817.4" y1="789.9" x2="831.4" y2="789.9" stroke="#000" stroke-width="3" stroke-linecap="butt"/>
<text x="813.9" y="798.4" font-size="24" font-weight="bold" text-anchor="end" fill="#000">20</text>
<line x1="966.6" y1="1105.9" x2="966.6" y2="1119.4" stroke="#000" stroke-width="3" stroke-linecap="butt"/>
<line x1="1170.3" y1="1105.9" x2="1170.3" y2="1119.4" stroke="#000" stroke-width="3" stroke-linecap="butt"/>
<text x="771.8" y="949.4" font-size="26" font-weight="bold" text-anchor="middle" fill="#000" textLength="153.5" lengthAdjust="spacingAndGlyphs" transform="rotate(-90 771.8 949.4)">CST1(ng/ml)</text>
<text x="966.6" y="1141.0" font-size="23.5" font-weight="bold" text-anchor="middle" fill="#000" textLength="264.5" lengthAdjust="spacingAndGlyphs">Before Surgurey(n= 40)</text>
<text x="1170.3" y="1141.0" font-size="23.5" font-weight="bold" text-anchor="middle" fill="#000" textLength="122.8" lengthAdjust="spacingAndGlyphs">&gt;2w (n=21)</text>
<polyline points="968.1,819.4 968.1,801.2 1168.8,801.2 1168.8,902.8" fill="none" stroke="#000" stroke-width="3" stroke-linejoin="miter"/>
<text x="0" y="0" transform="translate(1067.8 786.2) scale(1 1.05)" font-size="25" font-weight="normal" text-anchor="middle" fill="#000" textLength="78.5" lengthAdjust="spacingAndGlyphs">0.0023</text>
<line x1="966.6" y1="841.4" x2="1170.3" y2="925.3" stroke="#000" stroke-width="3.2" stroke-linecap="butt"/>
<line x1="966.6" y1="874.9" x2="1170.3" y2="959.6" stroke="#000" stroke-width="3.2" stroke-linecap="butt"/>
<line x1="966.6" y1="880.3" x2="1170.3" y2="976.3" stroke="#000" stroke-width="3.2" stroke-linecap="butt"/>
<line x1="966.6" y1="950.9" x2="1170.3" y2="983.9" stroke="#000" stroke-width="3.2" stroke-linecap="butt"/>
<line x1="966.6" y1="952.2" x2="1170.3" y2="1035.3" stroke="#000" stroke-width="3.2" stroke-linecap="butt"/>
<line x1="966.6" y1="959.1" x2="1170.3" y2="1074.3" stroke="#000" stroke-width="3.2" stroke-linecap="butt"/>
<line x1="966.6" y1="1000.4" x2="1170.3" y2="965.3" stroke="#000" stroke-width="3.2" stroke-linecap="butt"/>
<line x1="966.6" y1="1001.5" x2="1170.3" y2="1068.8" stroke="#000" stroke-width="3.2" stroke-linecap="butt"/>
<line x1="966.6" y1="1007.3" x2="1170.3" y2="995.6" stroke="#000" stroke-width="3.2" stroke-linecap="butt"/>
<line x1="966.6" y1="1014.4" x2="1170.3" y2="1007.5" stroke="#000" stroke-width="3.2" stroke-linecap="butt"/>
<line x1="966.6" y1="1016.8" x2="1170.3" y2="1079.5" stroke="#000" stroke-width="3.2" stroke-linecap="butt"/>
<line x1="966.6" y1="1017.9" x2="1170.3" y2="1032.9" stroke="#000" stroke-width="3.2" stroke-linecap="butt"/>
<line x1="966.6" y1="1019.2" x2="1170.3" y2="981.6" stroke="#000" stroke-width="3.2" stroke-linecap="butt"/>
<line x1="966.6" y1="1020.4" x2="1170.3" y2="1063.2" stroke="#000" stroke-width="3.2" stroke-linecap="butt"/>
<line x1="966.6" y1="1027.4" x2="1170.3" y2="1021.2" stroke="#000" stroke-width="3.2" stroke-linecap="butt"/>
<line x1="966.6" y1="1030.9" x2="1170.3" y2="1081.3" stroke="#000" stroke-width="3.2" stroke-linecap="butt"/>
<line x1="966.6" y1="1036.9" x2="1170.3" y2="1061.2" stroke="#000" stroke-width="3.2" stroke-linecap="butt"/>
<line x1="966.6" y1="1042.2" x2="1170.3" y2="1036.4" stroke="#000" stroke-width="3.2" stroke-linecap="butt"/>
<line x1="966.6" y1="1045.1" x2="1170.3" y2="1081.7" stroke="#000" stroke-width="3.2" stroke-linecap="butt"/>
<line x1="966.6" y1="1048.5" x2="1170.3" y2="1030.5" stroke="#000" stroke-width="3.2" stroke-linecap="butt"/>
<line x1="966.6" y1="1053.3" x2="1170.3" y2="1067.5" stroke="#000" stroke-width="3.2" stroke-linecap="butt"/>
<circle cx="966.6" cy="841.4" r="6.5" fill="#000"/>
<circle cx="966.6" cy="849.6" r="6.5" fill="#000"/>
<circle cx="966.6" cy="874.9" r="6.5" fill="#000"/>
<circle cx="966.6" cy="880.3" r="6.5" fill="#000"/>
<circle cx="966.6" cy="890.2" r="6.5" fill="#000"/>
<circle cx="966.6" cy="906.8" r="6.5" fill="#000"/>
<circle cx="966.6" cy="932.1" r="6.5" fill="#000"/>
<circle cx="966.6" cy="932.6" r="6.5" fill="#000"/>
<circle cx="966.6" cy="946.2" r="6.5" fill="#000"/>
<circle cx="966.6" cy="950.9" r="6.5" fill="#000"/>
<circle cx="966.6" cy="952.2" r="6.5" fill="#000"/>
<circle cx="966.6" cy="959.1" r="6.5" fill="#000"/>
<circle cx="966.6" cy="962.6" r="6.5" fill="#000"/>
<circle cx="966.6" cy="962.6" r="6.5" fill="#000"/>
<circle cx="966.6" cy="986.3" r="6.5" fill="#000"/>
<circle cx="966.6" cy="994.5" r="6.5" fill="#000"/>
<circle cx="966.6" cy="994.5" r="6.5" fill="#000"/>
<circle cx="966.6" cy="995.1" r="6.5" fill="#000"/>
<circle cx="966.6" cy="998.0" r="6.5" fill="#000"/>
<circle cx="966.6" cy="1000.4" r="6.5" fill="#000"/>
<circle cx="966.6" cy="1001.5" r="6.5" fill="#000"/>
<circle cx="966.6" cy="1007.3" r="6.5" fill="#000"/>
<circle cx="966.6" cy="1009.7" r="6.5" fill="#000"/>
<circle cx="966.6" cy="1014.4" r="6.5" fill="#000"/>
<circle cx="966.6" cy="1014.4" r="6.5" fill="#000"/>
<circle cx="966.6" cy="1016.8" r="6.5" fill="#000"/>
<circle cx="966.6" cy="1017.9" r="6.5" fill="#000"/>
<circle cx="966.6" cy="1019.2" r="6.5" fill="#000"/>
<circle cx="966.6" cy="1020.4" r="6.5" fill="#000"/>
<circle cx="966.6" cy="1020.4" r="6.5" fill="#000"/>
<circle cx="966.6" cy="1027.4" r="6.5" fill="#000"/>
<circle cx="966.6" cy="1027.4" r="6.5" fill="#000"/>
<circle cx="966.6" cy="1030.9" r="6.5" fill="#000"/>
<circle cx="966.6" cy="1036.9" r="6.5" fill="#000"/>
<circle cx="966.6" cy="1042.2" r="6.5" fill="#000"/>
<circle cx="966.6" cy="1045.1" r="6.5" fill="#000"/>
<circle cx="966.6" cy="1048.5" r="6.5" fill="#000"/>
<circle cx="966.6" cy="1053.3" r="6.5" fill="#000"/>
<circle cx="966.6" cy="1058.0" r="6.5" fill="#000"/>
<circle cx="966.6" cy="1061.5" r="6.5" fill="#000"/>
<circle cx="1170.3" cy="925.3" r="6.5" fill="#000"/>
<circle cx="1170.3" cy="959.6" r="6.5" fill="#000"/>
<circle cx="1170.3" cy="965.3" r="6.5" fill="#000"/>
<circle cx="1170.3" cy="976.3" r="6.5" fill="#000"/>
<circle cx="1170.3" cy="981.6" r="6.5" fill="#000"/>
<circle cx="1170.3" cy="983.9" r="6.5" fill="#000"/>
<circle cx="1170.3" cy="995.6" r="6.5" fill="#000"/>
<circle cx="1170.3" cy="1007.5" r="6.5" fill="#000"/>
<circle cx="1170.3" cy="1021.2" r="6.5" fill="#000"/>
<circle cx="1170.3" cy="1030.5" r="6.5" fill="#000"/>
<circle cx="1170.3" cy="1032.9" r="6.5" fill="#000"/>
<circle cx="1170.3" cy="1035.3" r="6.5" fill="#000"/>
<circle cx="1170.3" cy="1036.4" r="6.5" fill="#000"/>
<circle cx="1170.3" cy="1061.2" r="6.5" fill="#000"/>
<circle cx="1170.3" cy="1063.2" r="6.5" fill="#000"/>
<circle cx="1170.3" cy="1067.5" r="6.5" fill="#000"/>
<circle cx="1170.3" cy="1068.8" r="6.5" fill="#000"/>
<circle cx="1170.3" cy="1074.3" r="6.5" fill="#000"/>
<circle cx="1170.3" cy="1079.5" r="6.5" fill="#000"/>
<circle cx="1170.3" cy="1081.3" r="6.5" fill="#000"/>
<circle cx="1170.3" cy="1081.7" r="6.5" fill="#000"/>
</svg>
</body></html>
